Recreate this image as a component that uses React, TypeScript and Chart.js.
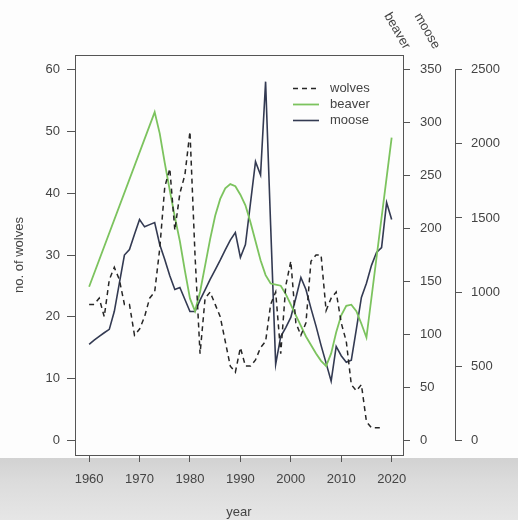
import React, { useEffect, useRef } from "react";
import { Chart, registerables } from "chart.js";
Chart.register(...registerables);

// ---- data ----
const wolfYears = [1960,1961,1962,1963,1964,1965,1966,1967,1968,1969,1970,1971,1972,1973,1974,1975,1976,1977,1978,1979,1980,1981,1982,1983,1984,1985,1986,1987,1988,1989,1990,1991,1992,1993,1994,1995,1996,1997,1998,1999,2000,2001,2002,2003,2004,2005,2006,2007,2008,2009,2010,2011,2012,2013,2014,2015,2016,2017,2018];
const wolves = [22,22,23,20,26,28,26,22,22,17,18,20,23,24,31,41,44,34,40,43,50,30,14,23,24,22,20,16,12,11,15,12,12,13,15,16,22,24,14,25,29,19,17,19,29,30,30,21,23,24,19,16,9,8,9,3,2,2,2];

const beaverYears = [1960,1973,1974,1975,1976,1977,1978,1979,1980,1981,1982,1983,1984,1985,1986,1987,1988,1989,1990,1991,1992,1993,1994,1995,1996,1997,1998,1999,2000,2001,2002,2003,2004,2005,2006,2007,2008,2009,2010,2011,2012,2013,2014,2015,2020];
const beaver = [145,310,290,262,236,211,188,160,134,122,140,165,190,212,228,238,242,240,232,222,206,188,170,156,148,147,146,138,128,118,108,98,90,82,75,70,82,102,118,127,128,122,110,97,286];

const mooseYears = [1960,1961,1962,1963,1964,1965,1966,1967,1968,1969,1970,1971,1972,1973,1974,1975,1976,1977,1978,1979,1980,1981,1982,1983,1984,1985,1986,1987,1988,1989,1990,1991,1992,1993,1994,1995,1996,1997,1998,1999,2000,2001,2002,2003,2004,2005,2006,2007,2008,2009,2010,2011,2012,2013,2014,2015,2016,2017,2018,2019,2020];
const moose = [647,675,701,725,748,870,1060,1250,1287,1390,1489,1440,1455,1469,1321,1220,1110,1017,1031,950,869,869,945,1015,1085,1150,1215,1285,1350,1402,1233,1321,1600,1880,1790,2420,1450,512,700,760,829,960,1098,1017,890,770,640,520,398,633,570,526,540,750,964,1060,1180,1267,1300,1604,1489];

const xTicks = [1960,1970,1980,1990,2000,2010,2020];
const wolfTicks = [0,10,20,30,40,50,60];
const beaverTicks = [0,50,100,150,200,250,300,350];
const mooseTicks = [0,500,1000,1500,2000,2500];

const FONT = "'Liberation Sans', Arial, Helvetica, sans-serif";
const TXT = "#444";
const AX = "#555";

const bgPlugin = {
  id: "bg",
  beforeDraw(chart: any) {
    const { ctx, width, height } = chart;
    ctx.save();
    ctx.fillStyle = "#fdfdfd";
    ctx.fillRect(0, 0, width, height);
    const g = ctx.createLinearGradient(0, 458, 0, height);
    g.addColorStop(0, "#d2d2d2");
    g.addColorStop(0.4, "#dcdcdc");
    g.addColorStop(1, "#e6e6e6");
    ctx.fillStyle = g;
    ctx.fillRect(0, 458, width, height - 458);
    ctx.restore();
  },
};

const overlayPlugin = {
  id: "overlay",
  afterDraw(chart: any) {
    const { ctx, chartArea } = chart;
    ctx.save();
    // plot box
    ctx.strokeStyle = AX;
    ctx.lineWidth = 1;
    ctx.setLineDash([]);
    ctx.strokeRect(
      Math.round(chartArea.left) + 0.5,
      Math.round(chartArea.top) + 0.5,
      Math.round(chartArea.right - chartArea.left),
      Math.round(chartArea.bottom - chartArea.top)
    );
    // moose axis line (only across tick range)
    const ms = chart.scales.yMoose;
    const mx = Math.round(ms.left) + 0.5;
    ctx.beginPath();
    ctx.moveTo(mx, ms.getPixelForValue(mooseTicks[mooseTicks.length - 1]));
    ctx.lineTo(mx, ms.getPixelForValue(mooseTicks[0]));
    ctx.stroke();

    // slanted axis names
    ctx.fillStyle = TXT;
    ctx.font = `13px ${FONT}`;
    ctx.textAlign = "center";
    ctx.textBaseline = "middle";
    const names: [string, number, number][] = [
      ["beaver", 397, 31],
      ["moose", 427, 31],
    ];
    for (const [t, x, y] of names) {
      ctx.save();
      ctx.translate(x, y);
      ctx.rotate(Math.PI / 3);
      ctx.fillText(t, 0, 0);
      ctx.restore();
    }

    // legend
    ctx.textAlign = "left";
    chart.data.datasets.forEach((ds: any, i: number) => {
      const y = 88 + i * 16;
      ctx.strokeStyle = ds.borderColor;
      ctx.lineWidth = ds.borderWidth;
      ctx.setLineDash(ds.borderDash || []);
      ctx.beginPath();
      ctx.moveTo(293, y + 0.5);
      ctx.lineTo(319, y + 0.5);
      ctx.stroke();
      ctx.setLineDash([]);
      ctx.fillStyle = TXT;
      ctx.fillText(ds.label, 330, y);
    });
    ctx.restore();
  },
};

const pts = (xs: number[], ys: number[]) => xs.map((x, i) => ({ x, y: ys[i] }));

export default function App() {
  const ref = useRef<HTMLCanvasElement | null>(null);
  useEffect(() => {
    if (!ref.current) return;
    const tickFont = { family: FONT, size: 13 };
    const grid = (len: number) => ({
      display: true,
      drawOnChartArea: false,
      drawTicks: true,
      tickLength: len,
      color: AX,
      lineWidth: 1,
    });
    const chart = new Chart(ref.current, {
      type: "line",
      data: {
        datasets: [
          {
            label: "wolves",
            data: pts(wolfYears, wolves),
            yAxisID: "y",
            borderColor: "#262626",
            borderDash: [5, 4],
            borderWidth: 1.5,
            pointRadius: 0,
            fill: false,
            tension: 0,
          },
          {
            label: "beaver",
            data: pts(beaverYears, beaver),
            yAxisID: "yBeaver",
            borderColor: "#7cc35e",
            borderWidth: 1.8,
            pointRadius: 0,
            fill: false,
            tension: 0,
          },
          {
            label: "moose",
            data: pts(mooseYears, moose),
            yAxisID: "yMoose",
            borderColor: "#333a52",
            borderWidth: 1.6,
            pointRadius: 0,
            fill: false,
            tension: 0,
          },
        ],
      },
      options: {
        responsive: false,
        animation: false,
        devicePixelRatio: 1,
        layout: { padding: { top: 55, left: 0, right: 0, bottom: 0 } },
        plugins: { legend: { display: false }, tooltip: { enabled: false } },
        scales: {
          x: {
            type: "linear",
            position: "bottom",
            min: 1957.2,
            max: 2022.25,
            afterFit: (s: any) => { s.height = 65; },
            afterBuildTicks: (s: any) => { s.ticks = xTicks.map((v) => ({ value: v })); },
            grid: grid(7),
            border: { display: false },
            ticks: { font: tickFont, color: TXT, padding: 10, maxRotation: 0, autoSkip: false, callback: (v: any) => String(v) },
            title: { display: true, text: "year", font: { family: FONT, size: 13, lineHeight: 1 }, color: TXT, padding: { top: 0, bottom: 1 } },
          },
          y: {
            type: "linear",
            position: "left",
            min: -2.4,
            max: 62.4,
            afterFit: (s: any) => { s.width = 75; },
            afterBuildTicks: (s: any) => { s.ticks = wolfTicks.map((v) => ({ value: v })); },
            grid: grid(8),
            border: { display: false },
            ticks: { font: tickFont, color: TXT, padding: 7, callback: (v: any) => String(v) },
            title: { display: true, text: "no. of wolves", font: { family: FONT, size: 13, lineHeight: 1 }, color: TXT, padding: { top: 13, bottom: 0 } },
          },
          yBeaver: {
            type: "linear",
            position: "right",
            min: -14,
            max: 364,
            afterFit: (s: any) => { s.width = 52; },
            afterBuildTicks: (s: any) => { s.ticks = beaverTicks.map((v) => ({ value: v })); },
            grid: grid(7),
            border: { display: false },
            ticks: { font: tickFont, color: TXT, padding: 10, callback: (v: any) => String(v) },
          },
          yMoose: {
            type: "linear",
            position: "right",
            min: -100,
            max: 2600,
            afterFit: (s: any) => { s.width = 63; },
            afterBuildTicks: (s: any) => { s.ticks = mooseTicks.map((v) => ({ value: v })); },
            grid: grid(7),
            border: { display: false },
            ticks: { font: tickFont, color: TXT, padding: 9, callback: (v: any) => String(v) },
          },
        },
      } as any,
      plugins: [bgPlugin, overlayPlugin],
    });
    return () => chart.destroy();
  }, []);

  return (
    <div style={{ position: "absolute", left: 0, top: 0, width: 518, height: 520 }}>
      <canvas ref={ref} width={518} height={520} style={{ display: "block", width: 518, height: 520 }} />
    </div>
  );
}
